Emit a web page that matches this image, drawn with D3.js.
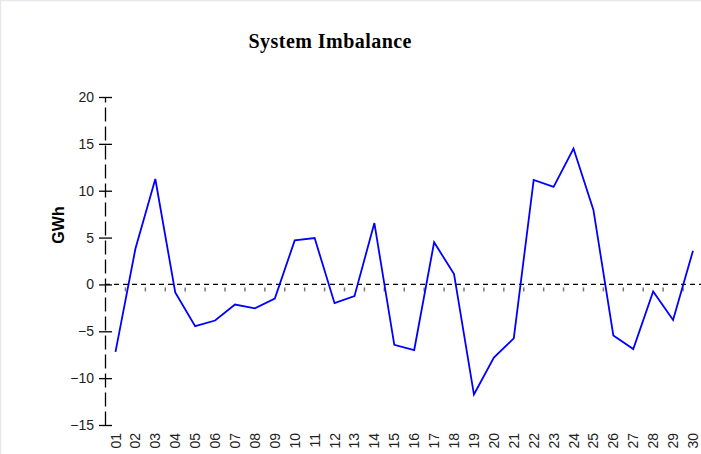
<!DOCTYPE html>
<html>
<head>
<meta charset="utf-8">
<script src="https://cdn.jsdelivr.net/npm/d3@7"></script>
<style>
  body { margin: 0; background: #fff; }
  #chart { display: block; }
</style>
</head>
<body>
<svg id="chart"></svg>
<script>
var days = ["01","02","03","04","05","06","07","08","09","10",
            "11","12","13","14","15","16","17","18","19","20",
            "21","22","23","24","25","26","27","28","29","30"];
var imbalance = [-7.2, 3.8, 11.25, -0.85, -4.45, -3.85, -2.15, -2.55, -1.5, 4.7,
                 4.95, -2.0, -1.25, 6.55, -6.45, -7.0, 4.5, 1.1, -11.75, -7.8,
                 -5.75, 11.15, 10.4, 14.5, 7.95, -5.45, -6.9, -0.75, -3.8, 3.6];
var yTicks = [-15, -10, -5, 0, 5, 10, 15, 20];

var W = 701, H = 454;
var svg = d3.select("#chart").attr("width", W).attr("height", H);

// faint page frame
svg.append("path")
   .attr("d", "M0.5," + H + "V0.5H" + W)
   .attr("fill", "none")
   .attr("stroke", "#e6e8ee")
   .attr("stroke-width", 1.5);

var x = d3.scalePoint().domain(days).range([115.5, 693]);
var y = d3.scaleLinear().domain([-15, 20]).range([425, 97]);
var axisX = 105;

svg.append("text")
   .attr("x", 330).attr("y", 48)
   .attr("text-anchor", "middle")
   .style("font-family", "'Liberation Serif', 'DejaVu Serif', serif")
   .style("font-weight", "bold")
   .style("font-size", "20px")
   .attr("textLength", 163)
   .text("System Imbalance");

svg.append("text")
   .attr("transform", "translate(64,225) rotate(-90)")
   .attr("text-anchor", "middle")
   .style("font-family", "'Liberation Sans', Arial, sans-serif")
   .style("font-weight", "bold")
   .style("font-size", "16px")
   .text("GWh");

// y axis
var gy = svg.append("g")
   .attr("transform", "translate(" + axisX + ",0)")
   .call(d3.axisLeft(y).tickValues(yTicks).tickSizeOuter(0));
gy.select(".domain")
  .attr("stroke", "#000")
  .attr("stroke-width", 1.3)
  .attr("stroke-dasharray", "14,5");
gy.selectAll(".tick line")
  .attr("x1", -6).attr("x2", 7)
  .attr("stroke", "#000").attr("stroke-width", 1.3);
gy.selectAll(".tick text")
  .attr("x", -11)
  .style("font-family", "'Liberation Sans', Arial, sans-serif")
  .style("font-size", "14px")
  .attr("fill", "#222");

// zero line
svg.append("line")
   .attr("x1", axisX).attr("x2", W)
   .attr("y1", y(0)).attr("y2", y(0))
   .attr("stroke", "#000")
   .attr("stroke-width", 1.2)
   .attr("stroke-dasharray", "5,4");

// small gray ticks between days
var step = x.step();
svg.selectAll(".midtick")
   .data(days.slice(1))
   .enter().append("line")
   .attr("class", "midtick")
   .attr("x1", function(d) { return x(d) - step / 2; })
   .attr("x2", function(d) { return x(d) - step / 2; })
   .attr("y1", y(0) + 3).attr("y2", y(0) + 7)
   .attr("stroke", "#777")
   .attr("stroke-width", 1.5);

// x labels
svg.selectAll(".xlab")
   .data(days)
   .enter().append("text")
   .attr("class", "xlab")
   .attr("transform", function(d) { return "translate(" + (x(d) + 5) + ",433) rotate(-90)"; })
   .attr("text-anchor", "end")
   .style("font-family", "'Liberation Sans', Arial, sans-serif")
   .style("font-size", "14px")
   .attr("fill", "#222")
   .text(function(d) { return d; });

var line = d3.line()
   .x(function(d, i) { return x(days[i]); })
   .y(function(d) { return y(d); });

svg.append("path")
   .datum(imbalance)
   .attr("fill", "none")
   .attr("stroke", "#0000ff")
   .attr("stroke-width", 1.8)
   .attr("d", line);
</script>
</body>
</html>
